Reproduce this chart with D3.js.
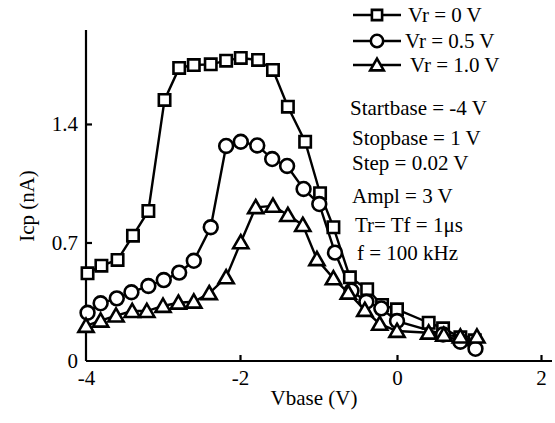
<!DOCTYPE html>
<html>
<head>
<meta charset="utf-8">
<script src="https://cdn.jsdelivr.net/npm/d3@7"></script>
<style>
  body { margin: 0; background: #fff; }
  svg text { font-family: "Liberation Serif", "DejaVu Serif", serif; fill: #000; }
</style>
</head>
<body>
<svg id="chart" width="555" height="423"></svg>
<script>
// Vr = 0 V (squares)
var vr0X = [-3.98, -3.80, -3.59, -3.39, -3.19, -2.98, -2.79, -2.60, -2.38, -2.18, -1.99, -1.77, -1.58, -1.39, -1.17, -0.98, -0.81, -0.60, -0.38, -0.19, 0.00, 0.44, 0.64, 0.88, 1.08];
var vr0Y = [0.518, 0.563, 0.597, 0.740, 0.886, 1.542, 1.731, 1.748, 1.752, 1.774, 1.790, 1.778, 1.719, 1.502, 1.295, 0.991, 0.790, 0.494, 0.424, 0.331, 0.305, 0.226, 0.193, 0.140, 0.122];
// Vr = 0.5 V (circles)
var vr05X = [-3.98, -3.81, -3.60, -3.41, -3.19, -2.99, -2.79, -2.60, -2.38, -2.18, -1.99, -1.78, -1.59, -1.40, -1.19, -0.99, -0.79, -0.58, -0.39, -0.20, 0.00, 0.64, 0.88, 1.09];
var vr05Y = [0.285, 0.341, 0.370, 0.406, 0.443, 0.478, 0.522, 0.592, 0.790, 1.270, 1.295, 1.273, 1.193, 1.152, 1.016, 0.927, 0.640, 0.415, 0.350, 0.311, 0.236, 0.157, 0.114, 0.072];
// Vr = 1.0 V (triangles)
var vr1X = [-4.00, -3.81, -3.61, -3.40, -3.21, -3.00, -2.80, -2.60, -2.40, -2.18, -1.99, -1.80, -1.58, -1.39, -1.20, -1.02, -0.81, -0.62, -0.41, -0.22, 0.00, 0.44, 0.65, 0.88, 1.11];
var vr1Y = [0.207, 0.238, 0.268, 0.295, 0.295, 0.325, 0.344, 0.350, 0.400, 0.494, 0.701, 0.908, 0.916, 0.862, 0.803, 0.601, 0.488, 0.403, 0.301, 0.219, 0.177, 0.167, 0.154, 0.144, 0.144];

var seriesNames = ["Vr = 0 V", "Vr = 0.5 V", "Vr = 1.0 V"];
var xTicks = [-4, -2, 0, 2];
var yTicks = [0, 0.7, 1.4];
var notes = ["Startbase = -4 V", "Stopbase = 1 V", "Step = 0.02 V", "Ampl = 3 V", "Tr= Tf = 1\u03bcs", "f = 100 kHz"];

var svg = d3.select("#chart");

// the scanned axis is slightly uneven, so use a piecewise scale through the ticks
var x = d3.scaleLinear().domain([-4, -2, 0, 2, 2.15]).range([86, 240, 397, 541, 552]);
var y = d3.scaleLinear().domain([0, 1.955]).range([361, 30]);

// axes
var xAxis = d3.axisBottom(x).tickValues(xTicks).tickSize(-6).tickPadding(9)
  .tickFormat(d3.format("d"));
var gx = svg.append("g").attr("transform", "translate(0," + y(0) + ")").call(xAxis);
gx.select(".domain").attr("d", "M" + x(-4) + ",0H" + x(2.15)).attr("stroke-width", 2.2);
gx.selectAll(".tick line").attr("stroke-width", 2.2);
gx.selectAll(".tick").filter(function (d) { return d === -4; }).select("line").remove();
gx.selectAll(".tick text").attr("font-size", 21).attr("font-family", "Liberation Serif")
  .text(function (d) { return d < 0 ? "-" + Math.abs(d) : d; });

var yAxis = d3.axisLeft(y).tickValues(yTicks).tickSize(-6).tickPadding(8)
  .tickFormat(function (d) { return d === 0 ? "0" : d3.format(".1f")(d); });
var gy = svg.append("g").attr("transform", "translate(" + x(-4) + ",0)").call(yAxis);
gy.select(".domain").attr("d", "M0," + y(0) + "V" + y(1.955)).attr("stroke-width", 2.2);
gy.selectAll(".tick line").attr("stroke-width", 2.2);
gy.selectAll(".tick").filter(function (d) { return d === 0; }).select("line").remove();
gy.selectAll(".tick text").attr("font-size", 21).attr("font-family", "Liberation Serif");

// axis titles
svg.append("text").attr("x", 314).attr("y", 405).attr("text-anchor", "middle")
  .attr("font-size", 21).text("Vbase (V)");
svg.append("text").attr("transform", "translate(34,206) rotate(-90)")
  .attr("text-anchor", "middle").attr("font-size", 21).text("Icp (nA)");

// series
var symbols = [d3.symbolSquare, d3.symbolCircle, d3.symbolTriangle];
var symSizes = [130, 150, 100];
var series = [
  { x: vr0X, y: vr0Y },
  { x: vr05X, y: vr05Y },
  { x: vr1X, y: vr1Y }
];
var line = d3.line().x(function (d) { return x(d[0]); }).y(function (d) { return y(d[1]); });

series.forEach(function (s, i) {
  var pts = d3.zip(s.x, s.y);
  svg.append("path").datum(pts).attr("d", line)
    .attr("fill", "none").attr("stroke", "#000").attr("stroke-width", 2.4);
});
series.forEach(function (s, i) {
  var pts = d3.zip(s.x, s.y);
  svg.append("g").selectAll("path").data(pts).enter().append("path")
    .attr("transform", function (d) { return "translate(" + x(d[0]) + "," + (y(d[1]) + (i === 2 ? 1.5 : 0)) + ")"; })
    .attr("d", d3.symbol().type(symbols[i]).size(symSizes[i]))
    .attr("fill", "#fff").attr("stroke", "#000").attr("stroke-width", 2.6);
});

// legend
var legendY = [15, 41, 65];
var legendTextX = [408, 405, 410];
var lg = svg.append("g");
seriesNames.forEach(function (name, i) {
  lg.append("line").attr("x1", 353).attr("x2", 401).attr("y1", legendY[i]).attr("y2", legendY[i])
    .attr("stroke", "#000").attr("stroke-width", 2.6);
  lg.append("path").attr("transform", "translate(377," + (legendY[i] + (i === 2 ? 1.5 : 0)) + ")")
    .attr("d", d3.symbol().type(symbols[i]).size(symSizes[i] * 0.8))
    .attr("fill", "#fff").attr("stroke", "#000").attr("stroke-width", 2.6);
  lg.append("text").attr("x", legendTextX[i]).attr("y", legendY[i] + 7)
    .attr("font-size", 21).text(name);
});

// measurement settings
var noteX = [350, 352, 352, 352, 355, 357];
var noteY = [115, 145, 170, 203, 232, 260];
notes.forEach(function (t, i) {
  svg.append("text").attr("x", noteX[i]).attr("y", noteY[i]).attr("font-size", 21).text(t);
});
</script>
</body>
</html>
